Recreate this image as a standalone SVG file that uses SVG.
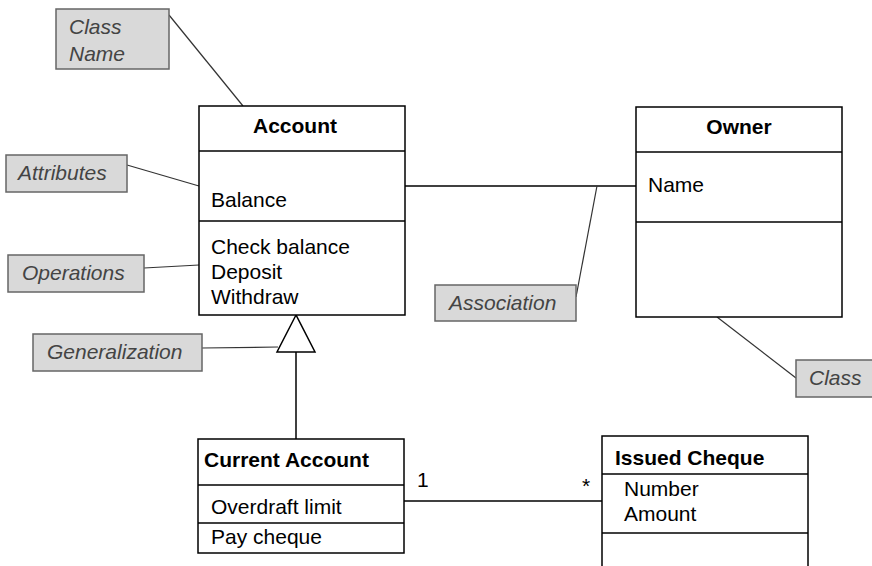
<svg xmlns="http://www.w3.org/2000/svg" width="872" height="566" viewBox="0 0 872 566">
<style>
.box{fill:#fff;stroke:#000;stroke-width:1.5}
.div{stroke:#000;stroke-width:1.5}
.note{fill:#d9d9d9;stroke:#666;stroke-width:1.5}
.lead{stroke:#333;stroke-width:1.2;fill:none}
.con{stroke:#000;stroke-width:1.5;fill:none}
.t{font-family:"Liberation Sans",Arial,sans-serif;font-size:21px;fill:#000}
.b{font-weight:bold}
.n{font-family:"Liberation Sans",Arial,sans-serif;font-size:21px;font-style:italic;fill:#444}
</style>
<rect width="872" height="566" fill="#fff"/>
<g id="connectors">
<line class="con" x1="405" y1="186" x2="636" y2="186"/>
<polygon points="296,315 277,352 315,352" fill="#fff" stroke="#000" stroke-width="1.5"/>
<line class="con" x1="296" y1="352" x2="296" y2="439"/>
<line class="con" x1="404" y1="501" x2="602" y2="501"/>
<text class="t" x="417" y="487">1</text>
<text class="t" x="582" y="493">*</text>
<line class="lead" x1="169" y1="15" x2="243" y2="106"/>
<line class="lead" x1="127" y1="165" x2="199" y2="186"/>
<line class="lead" x1="144" y1="268" x2="199" y2="265"/>
<line class="lead" x1="202" y1="348" x2="278" y2="347"/>
<line class="lead" x1="597" y1="186" x2="576" y2="297"/>
<line class="lead" x1="717" y1="317" x2="796" y2="378"/>
</g>
<g id="account">
<rect class="box" x="199" y="106" width="206" height="209"/>
<line class="div" x1="199" y1="151" x2="405" y2="151"/>
<line class="div" x1="199" y1="221" x2="405" y2="221"/>
<text class="t b" x="295" y="133" text-anchor="middle">Account</text>
<text class="t" x="211" y="207">Balance</text>
<text class="t" x="211" y="254">Check balance</text>
<text class="t" x="211" y="279">Deposit</text>
<text class="t" x="211" y="304">Withdraw</text>
</g>
<g id="owner">
<rect class="box" x="636" y="107" width="206" height="210"/>
<line class="div" x1="636" y1="152" x2="842" y2="152"/>
<line class="div" x1="636" y1="222" x2="842" y2="222"/>
<text class="t b" x="739" y="134" text-anchor="middle">Owner</text>
<text class="t" x="648" y="192">Name</text>
</g>
<g id="current-account">
<rect class="box" x="198" y="439" width="206" height="114"/>
<line class="div" x1="198" y1="485" x2="404" y2="485"/>
<line class="div" x1="198" y1="523" x2="404" y2="523"/>
<text class="t b" x="204" y="467">Current Account</text>
<text class="t" x="211" y="514">Overdraft limit</text>
<text class="t" x="211" y="544">Pay cheque</text>
</g>
<g id="issued-cheque">
<rect class="box" x="602" y="436" width="206" height="140"/>
<line class="div" x1="602" y1="474" x2="808" y2="474"/>
<line class="div" x1="602" y1="533" x2="808" y2="533"/>
<text class="t b" x="615" y="465">Issued Cheque</text>
<text class="t" x="624" y="496">Number</text>
<text class="t" x="624" y="521">Amount</text>
</g>
<g id="note-class-name">
<rect class="note" x="56" y="9" width="113" height="60"/>
<text class="n" x="69" y="34">Class</text>
<text class="n" x="69" y="61">Name</text>
</g>
<g id="note-attributes">
<rect class="note" x="6" y="155" width="121" height="37"/>
<text class="n" x="18" y="180">Attributes</text>
</g>
<g id="note-operations">
<rect class="note" x="8" y="255" width="136" height="37"/>
<text class="n" x="22" y="280">Operations</text>
</g>
<g id="note-generalization">
<rect class="note" x="33" y="334" width="169" height="37"/>
<text class="n" x="47" y="359">Generalization</text>
</g>
<g id="note-association">
<rect class="note" x="435" y="285" width="141" height="36"/>
<text class="n" x="449" y="310">Association</text>
</g>
<g id="note-class">
<rect class="note" x="796" y="360" width="80" height="37"/>
<text class="n" x="809" y="385">Class</text>
</g>
</svg>
